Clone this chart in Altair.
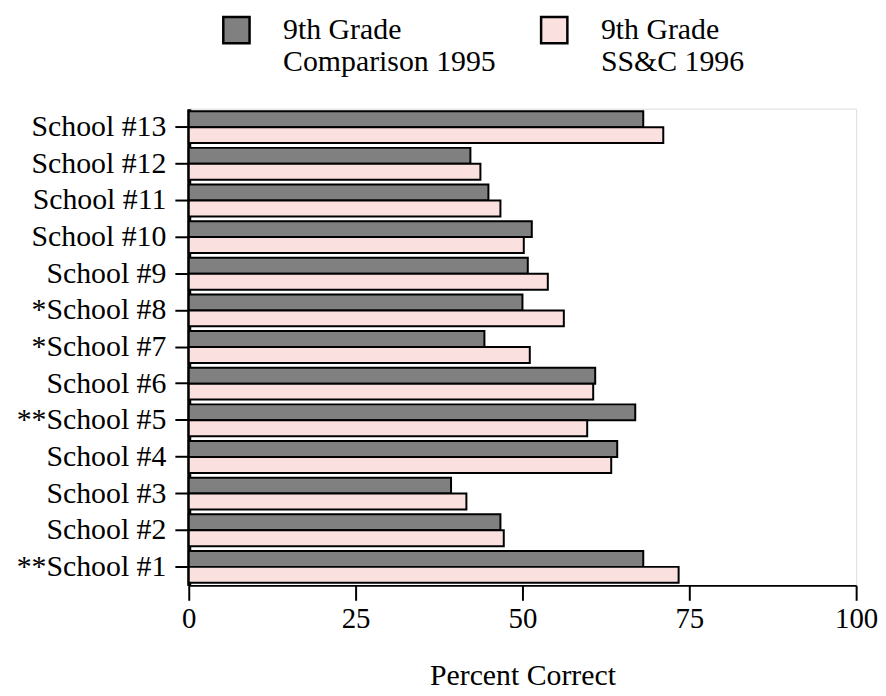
import altair as alt
import pandas as pd

schools = ["School #13", "School #12", "School #11", "School #10", "School #9",
           "*School #8", "*School #7", "School #6", "**School #5", "School #4",
           "School #3", "School #2", "**School #1"]
comparison_1995 = [68.1, 42.2, 44.9, 51.4, 50.8, 50.0, 44.3, 60.9, 66.9, 64.2, 39.3, 46.7, 68.1]
ssc_1996 = [71.1, 43.7, 46.7, 50.2, 53.8, 56.2, 51.1, 60.6, 59.7, 63.3, 41.6, 47.2, 73.4]
series = ["9th Grade\nComparison 1995", "9th Grade\nSS&C 1996"]
colors = ["#808080", "#fbe0e0"]
x_ticks = [0, 25, 50, 75, 100]

rows = []
for i, s in enumerate(schools):
    rows.append({"school": s, "series": series[0], "value": comparison_1995[i]})
    rows.append({"school": s, "series": series[1], "value": ssc_1996[i]})
df = pd.DataFrame(rows)

FONT = "Liberation Serif"

chart = alt.Chart(df).mark_bar(stroke="black", strokeWidth=2).encode(
    x=alt.X("value:Q", title="Percent Correct",
            scale=alt.Scale(domain=[0, 100], nice=False),
            axis=alt.Axis(values=x_ticks, grid=False, tickSize=15, tickWidth=2,
                          labelFontSize=29, titleFontSize=30, titleFontWeight="normal",
                          titlePadding=28, labelPadding=4, domainWidth=2,
                          labelFlush=False, labelOverlap=False,
                          labelFont=FONT, titleFont=FONT, labelColor="black",
                          titleColor="black", domainColor="black", tickColor="black")),
    y=alt.Y("school:N", sort=schools, title=None,
            scale=alt.Scale(paddingInner=0.13, paddingOuter=0.07),
            axis=alt.Axis(tickSize=14, tickWidth=2, labelFontSize=30, labelFont=FONT,
                          labelColor="black", domainWidth=4, domainColor="black",
                          tickColor="black", labelPadding=9, labelLimit=300)),
    yOffset=alt.YOffset("series:N", sort=series),
    color=alt.Color("series:N", sort=series,
                    scale=alt.Scale(domain=series, range=colors),
                    legend=alt.Legend(title=None, orient="none", legendX=33, legendY=-94,
                                      direction="horizontal", columns=2, columnPadding=39,
                                      symbolType="square", symbolSize=700,
                                      symbolStrokeColor="black", symbolStrokeWidth=2.5,
                                      labelFontSize=30, labelFont=FONT, labelColor="black",
                                      labelExpr="split(datum.label, '\\n')",
                                      labelOffset=32, symbolOffset=0,
                                      labelLimit=400)),
).properties(
    width=672, height=480,
    padding={"left": 8, "top": 5, "right": 0, "bottom": 0},
).configure_view(
    stroke="black", strokeWidth=2
).configure(background="white")

chart.save("out.html", embed_options={"renderer": "svg", "actions": False})
